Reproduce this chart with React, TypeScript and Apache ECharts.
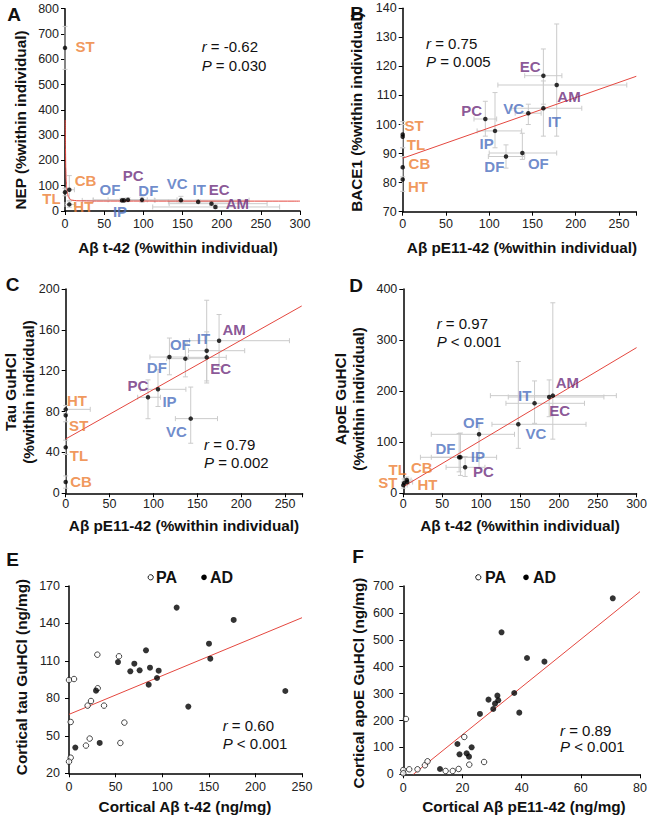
import React, { useEffect, useRef } from 'react';
import * as echarts from 'echarts';

const FONT = '"Liberation Sans", Arial, Helvetica, sans-serif';
const ORANGE = '#ED7D31';
const BLUE = '#4A6EBE';
const PURPLE = '#6C2C7C';
const RED = '#E4473F';
const GREY = '#CBCBCB';

const orangeRegions = ['ST', 'TL', 'CB', 'HT'];
const purpleRegions = ['PC', 'EC', 'AM'];

// ---- Panel A: NEP vs Abeta t-42
const aNames = ['ST', 'TL', 'CB', 'HT', 'DF', 'IP', 'PC', 'OF', 'VC', 'IT', 'EC', 'AM'];
const aX = [0, 0, 5.5, 5.5, 72.8, 75.3, 80.4, 98.3, 148, 170, 187, 192];
const aY = [645, 74, 84, 26, 42, 42, 44, 44, 43, 36, 29, 16];
const aXLo = [0, 0, 0, 0, 22, 36, 55, 36, 114, 132, 133, 112];
const aXHi = [0, 0, 12, 12, 98, 115, 105, 143, 235, 233, 258, 274];
const aYLo = [560, 60, 40, 15, 35, 35, 38, 35, 33, 30, 22, 10];
const aYHi = [730, 90, 140, 40, 50, 50, 52, 55, 58, 44, 37, 24];
const aFit = [[0.3, 360], [0.6, 250], [1, 170], [1.5, 125], [2, 96], [3, 72], [4.3, 57], [6, 48], [8.5, 43], [15, 40.5], [40, 39.2], [300, 39]];

// ---- Panel B: BACE1 vs Abeta pE11-42
const bNames = ['ST', 'TL', 'CB', 'HT', 'PC', 'IP', 'DF', 'OF', 'VC', 'IT', 'EC', 'AM'];
const bX = [0, 0, 0, 0, 95.5, 106.7, 119.4, 138.3, 145.2, 162.6, 162.6, 178];
const bY = [96.6, 95.8, 85.3, 81.1, 101.9, 97.8, 89.0, 90.2, 103.9, 105.6, 116.8, 113.6];
const bXLo = [0, 0, 0, 0, 82.4, 86, 99, 100, 130, 126, 141, 110];
const bXHi = [0, 0, 0, 0, 108.6, 137.5, 141, 178, 160, 207, 184, 259];
const bYLo = [92, 92, 82, 77, 96, 92, 85, 88, 100, 96, 107, 96];
const bYHi = [101, 100, 89, 85, 108, 111, 93, 97, 107, 115, 126, 134.6];
const bFit = [[0, 88.4], [270, 116.6]];

// ---- Panel C: Tau GuHCl vs Abeta pE11-42
const cNames = ['HT', 'ST', 'TL', 'CB', 'PC', 'IP', 'DF', 'OF', 'IT', 'EC', 'AM', 'VC'];
const cX = [0, 0, 0, 0, 93.8, 105.2, 118.2, 136.4, 160.7, 160.7, 174.8, 142.5];
const cY = [82.2, 76.3, 45, 11.1, 94, 101.8, 133.4, 131.8, 139.6, 133.1, 149.4, 73.1];
const cXLo = [0, 0, 0, 0, 82, 85, 96, 115, 140, 140, 141, 125];
const cXHi = [28, 0, 0, 0, 108, 137, 140, 160, 204, 183, 255, 173];
const cYLo = [78, 70, 38, 5, 73, 85, 116, 114, 110, 108, 124, 49];
const cYHi = [86, 82, 52, 17, 111, 121, 152, 147, 189, 158, 175, 104];
const cFit = [[0, 53.2], [269, 183.4]];

// ---- Panel D: ApoE GuHCl vs Abeta t-42
const dNames = ['ST', 'TL', 'CB', 'HT', 'DF', 'IP', 'PC', 'OF', 'VC', 'IT', 'EC', 'AM'];
const dX = [0, 1, 4.5, 5, 71.8, 73.5, 79.5, 97.4, 147.9, 168.8, 187.6, 192.3];
const dY = [16, 20, 26, 22, 70.5, 70.5, 50.9, 115.5, 135.1, 176.2, 188.6, 191.2];
const dXLo = [0, 0, 0, 0, 22, 36, 55, 36, 114, 132, 135, 112];
const dXHi = [5, 5, 10, 12, 98, 120, 105, 143, 235, 233, 258, 274];
const dYLo = [10, 15, 20, 17, 42, 35, 33, 49, 88, 137, 150, 106];
const dYHi = [22, 28, 32, 28, 117, 118, 72, 137, 258, 220, 222, 373];
const dFit = [[0, 13], [300, 285.2]];

// ---- Panel E: cortical tau GuHCl vs cortical Abeta t-42
const ePA = [[0, 94.7], [5.4, 95.5], [1.8, 61.1], [1.8, 32.5], [0, 29.3], [30.4, 115], [53.6, 113.7], [30.8, 88.1], [23.6, 77.9], [20, 74.2], [37.6, 74.2], [59.4, 60.6], [22.2, 47.8], [18.2, 42.2], [55.1, 44.3]];
const eAD = [[6.8, 40.6], [32.9, 44.3], [29, 86.2], [52.6, 109.1], [65.8, 101.7], [70.1, 107.8], [75.8, 102.5], [82.6, 118.5], [86.9, 104.6], [85.5, 91], [94.4, 96.3], [96.2, 102.2], [115.5, 152.7], [128, 73.4], [150.2, 123.8], [151.6, 111.8], [176.7, 142.8], [232.1, 85.9]];
const eFit = [[0, 67.2], [250, 144.6]];

// ---- Panel F: cortical apoE GuHCl vs cortical Abeta pE11-42
const fPA = [[0.9, 205.7], [0, 16], [0, 3.7], [2, 18.6], [4.8, 18.6], [7.3, 33.5], [8.2, 48.3], [14.3, 12.4], [16.7, 12.4], [18.7, 19.8], [20.6, 138.8], [22.3, 35.9], [27.3, 45.8]];
const fAD = [[12.4, 19.8], [18.3, 112.7], [19, 74.3], [21.4, 78.1], [22.2, 65.7], [23.1, 100.4], [25.9, 224.3], [28.8, 277.5], [30.4, 242.8], [31, 262.7], [31.8, 292.4], [32.1, 275.1], [33.2, 527.8], [37.5, 302.3], [39.2, 229.2], [41.8, 432.4], [47.7, 418.8], [70.8, 654.2]];
const fFit = [[3.4, 0], [80, 679]];

// ---- label placement (pixel offsets from each point, styling only)
const offA: Record<string, number[]> = { ST: [20, -1], TL: [-13.5, 6.2], CB: [16.3, -9.7], HT: [14, 2.3], OF: [-32, -10.3], DF: [26.3, -10.3], IP: [-4, 11.3], PC: [5.3, -24.7], VC: [-3.7, -16.7], IT: [1, -12], EC: [7.7, -14.3], AM: [22, -3] };
const offB: Record<string, number[]> = { ST: [11.3, -8.7], TL: [13.3, 7.3], CB: [16.7, -3.3], HT: [15.3, 7.3], PC: [-13.7, -9], IP: [-8.3, 12.3], DF: [-11.7, 10.3], OF: [16, 10.3], VC: [-14.7, -5], IT: [11, 13.3], EC: [-13.3, -9.7], AM: [12.3, 11] };
const offC: Record<string, number[]> = { HT: [11.3, -8.6], ST: [13, 10.5], TL: [13.3, 7.7], CB: [15.3, -0.7], PC: [-10.2, -11.6], IP: [11.5, 12.3], DF: [-12.6, 10.2], OF: [-5, -13.7], IT: [-3.3, -12.6], EC: [14, 11], AM: [15, -11.5], VC: [-14.2, 12.8] };
const offD: Record<string, number[]> = { ST: [-15.5, -3], TL: [-6.3, -13.7], CB: [15, -13], HT: [20.3, 2.3], DF: [-13.7, -8.6], IP: [17.5, -0.7], PC: [18.2, 4.6], OF: [-5.5, -11.8], VC: [17.5, 9.5], IT: [-9.8, -7.5], EC: [10.5, 13.8], AM: [14.6, -13.6] };

const regionColor = (n: string) => (orangeRegions.includes(n) ? ORANGE : purpleRegions.includes(n) ? PURPLE : BLUE);

function regionPoints(names: string[], xs: number[], ys: number[], offs: Record<string, number[]>) {
  return names.map((n, i) => ({
    name: n,
    value: [xs[i], ys[i]],
    label: {
      show: true,
      formatter: n,
      position: 'inside',
      offset: offs[n],
      color: regionColor(n),
      fontWeight: 'bold',
      fontSize: 15,
      lineHeight: 12,
      fontFamily: FONT,
    },
  }));
}

function errData(xs: number[], ys: number[], xl: number[], xh: number[], yl: number[], yh: number[]) {
  return xs.map((x, i) => [x, ys[i], Math.min(xl[i], x), Math.max(xh[i], x), Math.min(yl[i], ys[i]), Math.max(yh[i], ys[i])]);
}

const errRender = (_params: any, api: any) => {
  const x = api.value(0), y = api.value(1);
  const xl = api.value(2), xh = api.value(3), yl = api.value(4), yh = api.value(5);
  const st = { stroke: GREY, lineWidth: 1 };
  const cap = 2.5;
  const ch: any[] = [];
  if (xh > xl) {
    const a = api.coord([xl, y]), b = api.coord([xh, y]);
    ch.push({ type: 'line', shape: { x1: a[0], y1: a[1], x2: b[0], y2: b[1] }, style: st });
    if (xl < x) ch.push({ type: 'line', shape: { x1: a[0], y1: a[1] - cap, x2: a[0], y2: a[1] + cap }, style: st });
    if (xh > x) ch.push({ type: 'line', shape: { x1: b[0], y1: b[1] - cap, x2: b[0], y2: b[1] + cap }, style: st });
  }
  if (yh > yl) {
    const a = api.coord([x, yl]), b = api.coord([x, yh]);
    ch.push({ type: 'line', shape: { x1: a[0], y1: a[1], x2: b[0], y2: b[1] }, style: st });
    if (yl < y) ch.push({ type: 'line', shape: { x1: a[0] - cap, y1: a[1], x2: a[0] + cap, y2: a[1] }, style: st });
    if (yh > y) ch.push({ type: 'line', shape: { x1: b[0] - cap, y1: b[1], x2: b[0] + cap, y2: b[1] }, style: st });
  }
  return { type: 'group', children: ch };
};

function mkAxis(gi: number, min: number, max: number, interval: number, margin: number, step?: number) {
  return {
    type: 'value',
    gridIndex: gi,
    min,
    max,
    interval,
    axisLine: { show: true, onZero: false, lineStyle: { color: '#000', width: 1.5 } },
    axisTick: { show: true, length: 4, lineStyle: { color: '#000', width: 1 } },
    axisLabel: {
      fontSize: 12.5,
      lineHeight: 11,
      color: '#222',
      fontFamily: FONT,
      margin,
      formatter: (v: number) => (step && Math.round(v) % step !== 0 ? '' : String(v)),
    },
    splitLine: { show: false },
  };
}

function text(t: string, x: number, y: number, opts: any = {}) {
  return {
    type: 'text',
    x,
    y,
    rotation: opts.rotate ? Math.PI / 2 : 0,
    z: 10,
    style: {
      text: t,
      fontSize: opts.size || 15.3,
      fontWeight: opts.weight || 'bold',
      fontFamily: FONT,
      fill: opts.color || '#111',
      align: opts.align || 'center',
      verticalAlign: 'middle',
      rich: opts.rich,
    },
  };
}

const italicRich = { i: { fontStyle: 'italic', fontSize: 15, fontFamily: FONT, fill: '#111' } };
const stat = (t: string, x: number, y: number) => text(t, x, y, { weight: 'normal', size: 15, align: 'left', rich: italicRich });

export default function App() {
  const ref = useRef<HTMLDivElement>(null);
  useEffect(() => {
    document.body.style.margin = '0';
    const chart = echarts.init(ref.current!, null, { renderer: 'svg' });

    const grids = [
      { left: 65, top: 8.7, width: 235, height: 202.3 },
      { left: 402.7, top: 8.3, width: 233.6, height: 203.4 },
      { left: 65.7, top: 289, width: 236.9, height: 204.3 },
      { left: 403.3, top: 289, width: 234, height: 204.3 },
      { left: 69, top: 586, width: 233, height: 187.3 },
      { left: 403.3, top: 586, width: 236.7, height: 188.3 },
    ];

    const xAxis = [
      mkAxis(0, 0, 300, 50, 7),
      mkAxis(1, 0, 270, 50, 7, 50),
      mkAxis(2, 0, 270, 50, 5.5, 50),
      mkAxis(3, 0, 300, 50, 5.5),
      mkAxis(4, 0, 250, 50, 8.5),
      mkAxis(5, 0, 80, 20, 8.5),
    ];
    const yAxis = [
      mkAxis(0, 0, 800, 100, 6),
      mkAxis(1, 70, 140, 10, 6),
      mkAxis(2, 0, 200, 40, 6),
      mkAxis(3, 0, 400, 100, 6),
      mkAxis(4, 20, 170, 30, 9),
      mkAxis(5, 0, 700, 100, 9.5),
    ];

    const dot = { color: '#000' };
    const regionPanels = [
      { names: aNames, x: aX, y: aY, xl: aXLo, xh: aXHi, yl: aYLo, yh: aYHi, off: offA, fit: aFit, smooth: true },
      { names: bNames, x: bX, y: bY, xl: bXLo, xh: bXHi, yl: bYLo, yh: bYHi, off: offB, fit: bFit, smooth: false },
      { names: cNames, x: cX, y: cY, xl: cXLo, xh: cXHi, yl: cYLo, yh: cYHi, off: offC, fit: cFit, smooth: false },
      { names: dNames, x: dX, y: dY, xl: dXLo, xh: dXHi, yl: dYLo, yh: dYHi, off: offD, fit: dFit, smooth: false },
    ];

    const series: any[] = [];
    regionPanels.forEach((p, i) => {
      series.push({
        type: 'custom',
        xAxisIndex: i,
        yAxisIndex: i,
        renderItem: errRender,
        data: errData(p.x, p.y, p.xl, p.xh, p.yl, p.yh),
        encode: { x: 0, y: 1 },
        z: 1,
        silent: true,
        clip: false,
      });
      series.push({
        type: 'line',
        xAxisIndex: i,
        yAxisIndex: i,
        data: p.fit,
        showSymbol: false,
        symbol: 'none',
        smooth: p.smooth ? 0.35 : false,
        smoothMonotone: p.smooth ? 'x' : undefined,
        lineStyle: { color: RED, width: 1 },
        z: 2,
        silent: true,
      });
      series.push({
        type: 'scatter',
        xAxisIndex: i,
        yAxisIndex: i,
        data: regionPoints(p.names, p.x, p.y, p.off),
        symbol: 'circle',
        symbolSize: 4.5,
        itemStyle: dot,
        z: 3,
        clip: false,
        silent: true,
      });
    });

    const cortical = [
      { pa: ePA, ad: eAD, fit: eFit },
      { pa: fPA, ad: fAD, fit: fFit },
    ];
    cortical.forEach((p, k) => {
      const i = 4 + k;
      series.push({
        type: 'line',
        xAxisIndex: i,
        yAxisIndex: i,
        data: p.fit,
        symbol: 'none',
        lineStyle: { color: RED, width: 1 },
        z: 2,
        silent: true,
      });
      series.push({
        type: 'scatter',
        xAxisIndex: i,
        yAxisIndex: i,
        data: p.pa,
        symbol: 'circle',
        symbolSize: 5.5,
        itemStyle: { color: '#fff', borderColor: '#000', borderWidth: 0.9 },
        z: 3,
        clip: false,
        silent: true,
      });
      series.push({
        type: 'scatter',
        xAxisIndex: i,
        yAxisIndex: i,
        data: p.ad,
        symbol: 'circle',
        symbolSize: 6,
        itemStyle: { color: '#000' },
        z: 4,
        clip: false,
        silent: true,
      });
    });

    const graphic: any[] = [
      // panel letters
      text('A', 14, 14, { size: 19 }),
      text('B', 357, 13, { size: 19 }),
      text('C', 12.5, 284, { size: 19 }),
      text('D', 356, 285, { size: 19 }),
      text('E', 12.5, 559, { size: 19 }),
      text('F', 358, 556, { size: 19 }),
      // x titles
      text('Aβ t-42 (%within individual)', 178, 247),
      text('Aβ pE11-42 (%within individual)', 522, 247),
      text('Aβ pE11-42 (%within individual)', 184, 525),
      text('Aβ t-42 (%within individual)', 520, 525),
      text('Cortical Aβ t-42 (ng/mg)', 185, 806),
      text('Cortical Aβ pE11-42 (ng/mg)', 524, 806),
      // y titles
      text('NEP (%within individual)', 20, 120, { rotate: true }),
      text('BACE1 (%within individual)', 356.7, 112, { rotate: true }),
      text('Tau GuHCl', 10, 392, { rotate: true }),
      text('(%within individual)', 28, 392, { rotate: true }),
      text('ApoE GuHCl', 340, 399, { rotate: true }),
      text('(%within individual)', 358.3, 399, { rotate: true }),
      text('Cortical tau GuHCl (ng/mg)', 21.7, 677, { rotate: true }),
      text('Cortical apoE GuHCl (ng/mg)', 358.3, 683, { rotate: true }),
      // statistics
      stat('{i|r} = -0.62', 201.7, 46.7),
      stat('{i|P} = 0.030', 201.7, 65),
      stat('{i|r} = 0.75', 426, 43.3),
      stat('{i|P} = 0.005', 426, 61.7),
      stat('{i|r} = 0.79', 204, 444),
      stat('{i|P} = 0.002', 204, 462.7),
      stat('{i|r} = 0.97', 436.7, 323.3),
      stat('{i|P} < 0.001', 436.7, 341.7),
      stat('{i|r} = 0.60', 222.7, 725),
      stat('{i|P} < 0.001', 222.7, 743.3),
      stat('{i|r} = 0.89', 560, 730),
      stat('{i|P} < 0.001', 560, 746.7),
      // legends
      { type: 'circle', shape: { cx: 150.7, cy: 577.3, r: 2.6 }, style: { fill: '#fff', stroke: '#000', lineWidth: 0.9 }, z: 10 },
      text('PA', 156, 577.3, { size: 16, align: 'left' }),
      { type: 'circle', shape: { cx: 204, cy: 577.3, r: 2.8 }, style: { fill: '#000' }, z: 10 },
      text('AD', 210, 577.3, { size: 16, align: 'left' }),
      { type: 'circle', shape: { cx: 478.3, cy: 577.3, r: 2.6 }, style: { fill: '#fff', stroke: '#000', lineWidth: 0.9 }, z: 10 },
      text('PA', 485, 577.3, { size: 16, align: 'left' }),
      { type: 'circle', shape: { cx: 526, cy: 577.3, r: 2.8 }, style: { fill: '#000' }, z: 10 },
      text('AD', 533, 577.3, { size: 16, align: 'left' }),
    ];

    chart.setOption({
      animation: false,
      backgroundColor: '#fff',
      textStyle: { fontFamily: FONT },
      grid: grids,
      xAxis,
      yAxis,
      series,
      graphic,
    });
    return () => chart.dispose();
  }, []);
  return <div ref={ref} style={{ position: 'absolute', left: 0, top: 0, width: 650, height: 819 }} />;
}
